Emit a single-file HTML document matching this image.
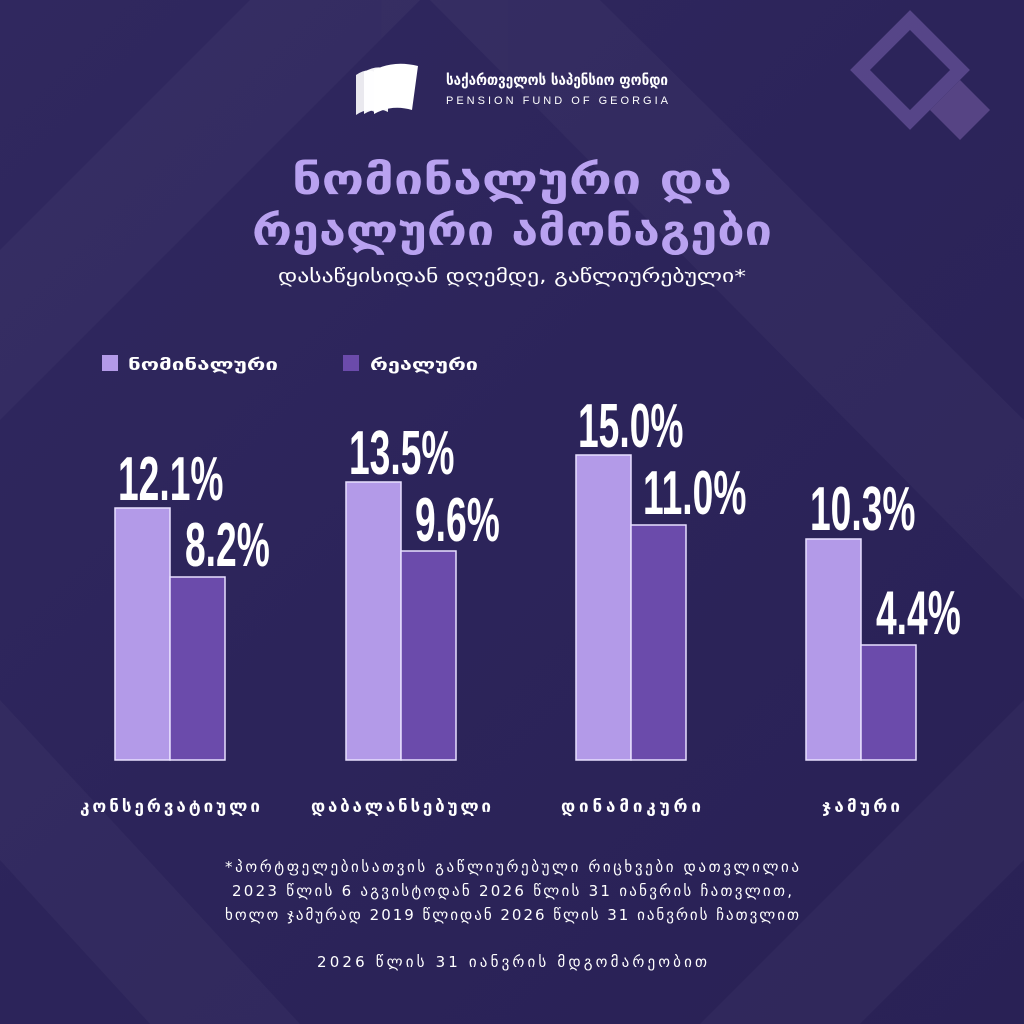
<!DOCTYPE html>
<html><head><meta charset="utf-8"><style>
html,body{margin:0;padding:0;}
body{width:1024px;height:1024px;overflow:hidden;background:#2b2459;}
svg{display:block}
</style></head><body>
<svg width="1024" height="1024" viewBox="0 0 1024 1024" xmlns="http://www.w3.org/2000/svg">
<defs>
<linearGradient id="bg" x1="0" y1="0" x2="1" y2="1">
<stop offset="0" stop-color="#30285f"/><stop offset="0.5" stop-color="#2c245a"/><stop offset="1" stop-color="#292155"/>
</linearGradient>
</defs>
<rect width="1024" height="1024" fill="url(#bg)"/>
<g fill="#ffffff" opacity="0.03">
<polygon points="0,250 250,0 420,0 0,420"/>
<polygon points="600,0 1024,420 1024,600 430,0"/>
<polygon points="0,700 300,1024 150,1024 0,860"/>
<polygon points="700,1024 1024,700 1024,860 860,1024"/>
</g>
<g opacity="0.45">
<polygon points="910,20 960,70 910,120 860,70" fill="none" stroke="#8a6fc0" stroke-width="14"/>
<polygon points="960,80 990,110 960,140 930,110" fill="#b08ae0" opacity="0.7"/>
</g>
<g fill="#fff">
<path d="M356 75 q12-8 20-2 l0 40 q-8-6-20 2z" opacity="0.9"/>
<path d="M364 72 q14-8 24-2 l0 42 q-10-6-24 2z" opacity="0.95"/>
<path d="M374 70 q20-10 44 -4 l-6 44 q-20-6-38 4z"/>
</g>
<text x="446" y="85" fill="#fff" font-family="DejaVu Sans, sans-serif" font-weight="bold" font-size="15" textLength="222" lengthAdjust="spacingAndGlyphs">საქართველოს საპენსიო ფონდი</text>
<text x="446" y="104" fill="#fff" font-family="Liberation Sans, sans-serif" font-size="11" textLength="222" lengthAdjust="spacing">PENSION FUND OF GEORGIA</text>
<text x="512" y="194" text-anchor="middle" fill="#b9a2f0" font-family="DejaVu Sans, sans-serif" font-weight="bold" font-size="42" textLength="440" lengthAdjust="spacingAndGlyphs">ნომინალური და</text>
<text x="512" y="245" text-anchor="middle" fill="#b9a2f0" font-family="DejaVu Sans, sans-serif" font-weight="bold" font-size="42" textLength="520" lengthAdjust="spacingAndGlyphs">რეალური ამონაგები</text>
<text x="512" y="282" text-anchor="middle" fill="#fff" font-family="DejaVu Sans, sans-serif" font-size="18" textLength="468" lengthAdjust="spacingAndGlyphs">დასაწყისიდან დღემდე, გაწლიურებული*</text>
<rect x="102" y="355" width="16" height="16" fill="#b39ae8"/>
<text x="128" y="370" fill="#fff" font-family="DejaVu Sans, sans-serif" font-weight="bold" font-size="16" textLength="150" lengthAdjust="spacingAndGlyphs">ნომინალური</text>
<rect x="343" y="355" width="16" height="16" fill="#6b4bab"/>
<text x="370" y="370" fill="#fff" font-family="DejaVu Sans, sans-serif" font-weight="bold" font-size="16" textLength="108" lengthAdjust="spacingAndGlyphs">რეალური</text>
<g stroke="#e8e0ff" stroke-width="1.5">
<rect x="115" y="508" width="55" height="252" fill="#b39ae8"/>
<rect x="170" y="577" width="55" height="183" fill="#6b4bab"/>
<rect x="346" y="482" width="55" height="278" fill="#b39ae8"/>
<rect x="401" y="551" width="55" height="209" fill="#6b4bab"/>
<rect x="576" y="455" width="55" height="305" fill="#b39ae8"/>
<rect x="631" y="525" width="55" height="235" fill="#6b4bab"/>
<rect x="806" y="539" width="55" height="221" fill="#b39ae8"/>
<rect x="861" y="645" width="55" height="115" fill="#6b4bab"/>
</g>
<g fill="#fff" font-family="Liberation Sans Narrow, Liberation Sans, sans-serif" font-weight="bold" font-size="62">
<g transform="translate(118,500) scale(0.6,1)"><text x="0" y="0">12.1%</text></g>
<g transform="translate(185,566) scale(0.6,1)"><text x="0" y="0">8.2%</text></g>
<g transform="translate(349,474) scale(0.6,1)"><text x="0" y="0">13.5%</text></g>
<g transform="translate(415,541) scale(0.6,1)"><text x="0" y="0">9.6%</text></g>
<g transform="translate(578,447) scale(0.6,1)"><text x="0" y="0">15.0%</text></g>
<g transform="translate(643,514) scale(0.6,1)"><text x="0" y="0">11.0%</text></g>
<g transform="translate(810,530) scale(0.6,1)"><text x="0" y="0">10.3%</text></g>
<g transform="translate(876,634) scale(0.6,1)"><text x="0" y="0">4.4%</text></g>
</g>
<g fill="#fff" font-family="DejaVu Sans, sans-serif" font-weight="bold" font-size="17" text-anchor="middle" lengthAdjust="spacingAndGlyphs">
<text x="170" y="812" textLength="180">კონსერვატიული</text>
<text x="401" y="812" textLength="180">დაბალანსებული</text>
<text x="631" y="812" textLength="140">დინამიკური</text>
<text x="861" y="812" textLength="78">ჯამური</text>
</g>
<g fill="#fff" font-family="DejaVu Sans, sans-serif" font-size="15" text-anchor="middle" lengthAdjust="spacingAndGlyphs">
<text x="512" y="872" textLength="574">*პორტფელებისათვის გაწლიურებული რიცხვები დათვლილია</text>
<text x="512" y="896" textLength="560">2023 წლის 6 აგვისტოდან 2026 წლის 31 იანვრის ჩათვლით,</text>
<text x="512" y="920" textLength="574">ხოლო ჯამურად 2019 წლიდან 2026 წლის 31 იანვრის ჩათვლით</text>
<text x="512" y="967" textLength="390">2026 წლის 31 იანვრის მდგომარეობით</text>
</g>
</svg>
</body></html>
